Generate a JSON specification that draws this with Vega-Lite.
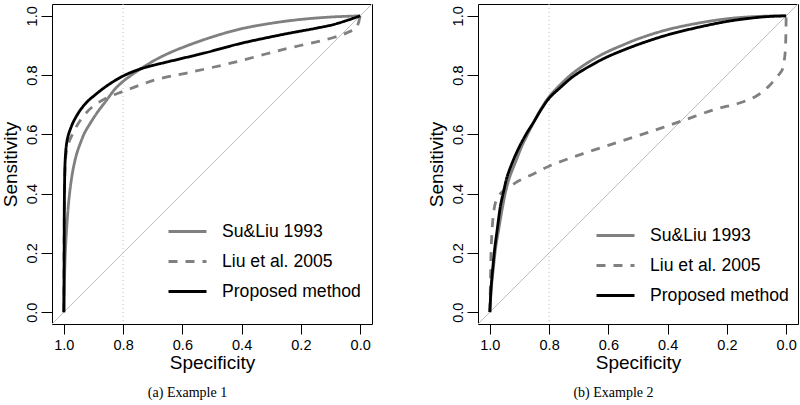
{
  "$schema": "https://vega.github.io/schema/vega-lite/v6.json",
  "background": "white",
  "padding": {"left": 0, "top": 1, "right": 0, "bottom": 0},
  "spacing": 106,
  "bounds": "flush",
  "config": {
    "font": "Liberation Sans",
    "view": {"stroke": "black", "strokeWidth": 1},
    "axis": {"domain": false, "grid": false, "tickColor": "black", "tickWidth": 1, "tickSize": 10, "labelColor": "black", "labelFontSize": 14.5, "labelFont": "Liberation Sans", "labelFlush": false, "labelOverlap": false, "titleFontSize": 19, "titleFontWeight": "normal", "titleColor": "black", "titleFont": "Liberation Sans"},
    "axisY": {"labelAngle": -90, "labelAlign": "center", "labelBaseline": "bottom", "tickSize": 11, "labelPadding": 2, "titlePadding": 4},
    "axisX": {"labelPadding": 4, "titlePadding": 2},
    "legend": {"symbolType": "stroke", "symbolSize": 1444, "symbolStrokeWidth": 2.8, "labelFontSize": 17.6, "labelColor": "black", "labelFont": "Liberation Sans", "labelOffset": 14, "rowPadding": 0, "padding": 0, "labelLimit": 300},
    "title": {"orient": "bottom", "frame": "bounds", "anchor": "middle", "font": "Liberation Serif", "fontSize": 14, "fontWeight": "normal", "color": "black", "offset": 13}
  },
  "datasets": {
    "a": [
      {"method": "Su&Liu 1993", "spec": 1.0, "sens": 0.0},
      {"method": "Su&Liu 1993", "spec": 0.998, "sens": 0.1},
      {"method": "Su&Liu 1993", "spec": 0.995, "sens": 0.2},
      {"method": "Su&Liu 1993", "spec": 0.99, "sens": 0.29},
      {"method": "Su&Liu 1993", "spec": 0.984, "sens": 0.368},
      {"method": "Su&Liu 1993", "spec": 0.977, "sens": 0.43},
      {"method": "Su&Liu 1993", "spec": 0.969, "sens": 0.481},
      {"method": "Su&Liu 1993", "spec": 0.957, "sens": 0.533},
      {"method": "Su&Liu 1993", "spec": 0.944, "sens": 0.571},
      {"method": "Su&Liu 1993", "spec": 0.93, "sens": 0.605},
      {"method": "Su&Liu 1993", "spec": 0.91, "sens": 0.639},
      {"method": "Su&Liu 1993", "spec": 0.885, "sens": 0.677},
      {"method": "Su&Liu 1993", "spec": 0.856, "sens": 0.715},
      {"method": "Su&Liu 1993", "spec": 0.83, "sens": 0.75},
      {"method": "Su&Liu 1993", "spec": 0.8, "sens": 0.779},
      {"method": "Su&Liu 1993", "spec": 0.744, "sens": 0.819},
      {"method": "Su&Liu 1993", "spec": 0.69, "sens": 0.852},
      {"method": "Su&Liu 1993", "spec": 0.632, "sens": 0.88},
      {"method": "Su&Liu 1993", "spec": 0.52, "sens": 0.922},
      {"method": "Su&Liu 1993", "spec": 0.407, "sens": 0.955},
      {"method": "Su&Liu 1993", "spec": 0.3, "sens": 0.975},
      {"method": "Su&Liu 1993", "spec": 0.2, "sens": 0.988},
      {"method": "Su&Liu 1993", "spec": 0.1, "sens": 0.996},
      {"method": "Su&Liu 1993", "spec": 0.0, "sens": 1.0},
      {"method": "Liu et al. 2005", "spec": 1.0, "sens": 0.0},
      {"method": "Liu et al. 2005", "spec": 0.999, "sens": 0.25},
      {"method": "Liu et al. 2005", "spec": 0.997, "sens": 0.45},
      {"method": "Liu et al. 2005", "spec": 0.993, "sens": 0.53},
      {"method": "Liu et al. 2005", "spec": 0.986, "sens": 0.565},
      {"method": "Liu et al. 2005", "spec": 0.974, "sens": 0.594},
      {"method": "Liu et al. 2005", "spec": 0.96, "sens": 0.622},
      {"method": "Liu et al. 2005", "spec": 0.946, "sens": 0.645},
      {"method": "Liu et al. 2005", "spec": 0.925, "sens": 0.672},
      {"method": "Liu et al. 2005", "spec": 0.901, "sens": 0.695},
      {"method": "Liu et al. 2005", "spec": 0.856, "sens": 0.723},
      {"method": "Liu et al. 2005", "spec": 0.8, "sens": 0.745},
      {"method": "Liu et al. 2005", "spec": 0.744, "sens": 0.766},
      {"method": "Liu et al. 2005", "spec": 0.688, "sens": 0.785},
      {"method": "Liu et al. 2005", "spec": 0.576, "sens": 0.809},
      {"method": "Liu et al. 2005", "spec": 0.43, "sens": 0.842},
      {"method": "Liu et al. 2005", "spec": 0.262, "sens": 0.886},
      {"method": "Liu et al. 2005", "spec": 0.093, "sens": 0.926},
      {"method": "Liu et al. 2005", "spec": 0.037, "sens": 0.946},
      {"method": "Liu et al. 2005", "spec": 0.012, "sens": 0.962},
      {"method": "Liu et al. 2005", "spec": 0.0, "sens": 1.0},
      {"method": "Proposed method", "spec": 1.0, "sens": 0.0},
      {"method": "Proposed method", "spec": 0.999, "sens": 0.2},
      {"method": "Proposed method", "spec": 0.998, "sens": 0.4},
      {"method": "Proposed method", "spec": 0.996, "sens": 0.503},
      {"method": "Proposed method", "spec": 0.993, "sens": 0.55},
      {"method": "Proposed method", "spec": 0.99, "sens": 0.574},
      {"method": "Proposed method", "spec": 0.985, "sens": 0.597},
      {"method": "Proposed method", "spec": 0.978, "sens": 0.618},
      {"method": "Proposed method", "spec": 0.97, "sens": 0.638},
      {"method": "Proposed method", "spec": 0.96, "sens": 0.657},
      {"method": "Proposed method", "spec": 0.948, "sens": 0.677},
      {"method": "Proposed method", "spec": 0.933, "sens": 0.697},
      {"method": "Proposed method", "spec": 0.915, "sens": 0.716},
      {"method": "Proposed method", "spec": 0.896, "sens": 0.732},
      {"method": "Proposed method", "spec": 0.856, "sens": 0.763},
      {"method": "Proposed method", "spec": 0.8, "sens": 0.797},
      {"method": "Proposed method", "spec": 0.744, "sens": 0.82},
      {"method": "Proposed method", "spec": 0.69, "sens": 0.835},
      {"method": "Proposed method", "spec": 0.632, "sens": 0.849},
      {"method": "Proposed method", "spec": 0.52, "sens": 0.876},
      {"method": "Proposed method", "spec": 0.407, "sens": 0.906},
      {"method": "Proposed method", "spec": 0.262, "sens": 0.937},
      {"method": "Proposed method", "spec": 0.15, "sens": 0.958},
      {"method": "Proposed method", "spec": 0.093, "sens": 0.97},
      {"method": "Proposed method", "spec": 0.04, "sens": 0.986},
      {"method": "Proposed method", "spec": 0.0, "sens": 1.0}
    ],
    "b": [
      {"method": "Su&Liu 1993", "spec": 1.0, "sens": 0.0},
      {"method": "Su&Liu 1993", "spec": 0.995, "sens": 0.08},
      {"method": "Su&Liu 1993", "spec": 0.988, "sens": 0.15},
      {"method": "Su&Liu 1993", "spec": 0.98, "sens": 0.22},
      {"method": "Su&Liu 1993", "spec": 0.97, "sens": 0.28},
      {"method": "Su&Liu 1993", "spec": 0.958, "sens": 0.35},
      {"method": "Su&Liu 1993", "spec": 0.946, "sens": 0.41},
      {"method": "Su&Liu 1993", "spec": 0.933, "sens": 0.456},
      {"method": "Su&Liu 1993", "spec": 0.91, "sens": 0.515},
      {"method": "Su&Liu 1993", "spec": 0.89, "sens": 0.565},
      {"method": "Su&Liu 1993", "spec": 0.87, "sens": 0.605},
      {"method": "Su&Liu 1993", "spec": 0.85, "sens": 0.645},
      {"method": "Su&Liu 1993", "spec": 0.826, "sens": 0.688},
      {"method": "Su&Liu 1993", "spec": 0.8, "sens": 0.727},
      {"method": "Su&Liu 1993", "spec": 0.76, "sens": 0.77},
      {"method": "Su&Liu 1993", "spec": 0.718, "sens": 0.808},
      {"method": "Su&Liu 1993", "spec": 0.66, "sens": 0.848},
      {"method": "Su&Liu 1993", "spec": 0.607, "sens": 0.877},
      {"method": "Su&Liu 1993", "spec": 0.55, "sens": 0.902},
      {"method": "Su&Liu 1993", "spec": 0.495, "sens": 0.924},
      {"method": "Su&Liu 1993", "spec": 0.406, "sens": 0.952},
      {"method": "Su&Liu 1993", "spec": 0.294, "sens": 0.976},
      {"method": "Su&Liu 1993", "spec": 0.182, "sens": 0.992},
      {"method": "Su&Liu 1993", "spec": 0.07, "sens": 0.999},
      {"method": "Su&Liu 1993", "spec": 0.0, "sens": 1.0},
      {"method": "Liu et al. 2005", "spec": 1.0, "sens": 0.0},
      {"method": "Liu et al. 2005", "spec": 0.998, "sens": 0.1},
      {"method": "Liu et al. 2005", "spec": 0.996, "sens": 0.2},
      {"method": "Liu et al. 2005", "spec": 0.993, "sens": 0.27},
      {"method": "Liu et al. 2005", "spec": 0.988, "sens": 0.33},
      {"method": "Liu et al. 2005", "spec": 0.981, "sens": 0.37},
      {"method": "Liu et al. 2005", "spec": 0.97, "sens": 0.393},
      {"method": "Liu et al. 2005", "spec": 0.953, "sens": 0.41},
      {"method": "Liu et al. 2005", "spec": 0.93, "sens": 0.425},
      {"method": "Liu et al. 2005", "spec": 0.908, "sens": 0.44},
      {"method": "Liu et al. 2005", "spec": 0.85, "sens": 0.468},
      {"method": "Liu et al. 2005", "spec": 0.797, "sens": 0.494},
      {"method": "Liu et al. 2005", "spec": 0.74, "sens": 0.516},
      {"method": "Liu et al. 2005", "spec": 0.685, "sens": 0.535},
      {"method": "Liu et al. 2005", "spec": 0.573, "sens": 0.572},
      {"method": "Liu et al. 2005", "spec": 0.461, "sens": 0.608},
      {"method": "Liu et al. 2005", "spec": 0.35, "sens": 0.646},
      {"method": "Liu et al. 2005", "spec": 0.238, "sens": 0.685},
      {"method": "Liu et al. 2005", "spec": 0.16, "sens": 0.705},
      {"method": "Liu et al. 2005", "spec": 0.103, "sens": 0.728},
      {"method": "Liu et al. 2005", "spec": 0.059, "sens": 0.762},
      {"method": "Liu et al. 2005", "spec": 0.026, "sens": 0.8},
      {"method": "Liu et al. 2005", "spec": 0.013, "sens": 0.818},
      {"method": "Liu et al. 2005", "spec": 0.005, "sens": 0.86},
      {"method": "Liu et al. 2005", "spec": 0.002, "sens": 0.9},
      {"method": "Liu et al. 2005", "spec": 0.0005, "sens": 0.96},
      {"method": "Liu et al. 2005", "spec": 0.0, "sens": 1.0},
      {"method": "Proposed method", "spec": 1.0, "sens": 0.0},
      {"method": "Proposed method", "spec": 0.996, "sens": 0.08},
      {"method": "Proposed method", "spec": 0.99, "sens": 0.15},
      {"method": "Proposed method", "spec": 0.983, "sens": 0.22},
      {"method": "Proposed method", "spec": 0.975, "sens": 0.28},
      {"method": "Proposed method", "spec": 0.964, "sens": 0.36},
      {"method": "Proposed method", "spec": 0.953, "sens": 0.41},
      {"method": "Proposed method", "spec": 0.942, "sens": 0.456},
      {"method": "Proposed method", "spec": 0.92, "sens": 0.515},
      {"method": "Proposed method", "spec": 0.897, "sens": 0.565},
      {"method": "Proposed method", "spec": 0.875, "sens": 0.605},
      {"method": "Proposed method", "spec": 0.853, "sens": 0.64},
      {"method": "Proposed method", "spec": 0.826, "sens": 0.685},
      {"method": "Proposed method", "spec": 0.8, "sens": 0.722},
      {"method": "Proposed method", "spec": 0.76, "sens": 0.76},
      {"method": "Proposed method", "spec": 0.718, "sens": 0.796},
      {"method": "Proposed method", "spec": 0.66, "sens": 0.832},
      {"method": "Proposed method", "spec": 0.607, "sens": 0.86},
      {"method": "Proposed method", "spec": 0.55, "sens": 0.884},
      {"method": "Proposed method", "spec": 0.495, "sens": 0.905},
      {"method": "Proposed method", "spec": 0.406, "sens": 0.934},
      {"method": "Proposed method", "spec": 0.294, "sens": 0.962},
      {"method": "Proposed method", "spec": 0.182, "sens": 0.984},
      {"method": "Proposed method", "spec": 0.07, "sens": 0.997},
      {"method": "Proposed method", "spec": 0.0, "sens": 1.0}
    ]
  },
  "hconcat": [
    {
      "width": 320, "height": 320,
      "title": {"text": "(a) Example 1"},
      "layer": [
        {
          "data": {"values": [{"spec": 1.04, "sens": -0.04}, {"spec": -0.04, "sens": 1.04}]},
          "mark": {"type": "line", "color": "#bebebe", "strokeWidth": 1},
          "encoding": {
            "x": {"field": "spec", "type": "quantitative", "scale": {"domain": [-0.04, 1.04], "reverse": true, "nice": false, "zero": false}, "axis": {"values": [0, 0.2, 0.4, 0.6, 0.8, 1], "format": ".1f"}, "title": "Specificity"},
            "y": {"field": "sens", "type": "quantitative", "scale": {"domain": [-0.04, 1.04], "nice": false, "zero": false}, "axis": {"values": [0, 0.2, 0.4, 0.6, 0.8, 1], "format": ".1f"}, "title": "Sensitivity"}
          }
        },
        {
          "data": {"values": [{"spec": 0.8}]},
          "mark": {"type": "rule", "color": "#bebebe", "strokeDash": [1, 3], "strokeWidth": 1},
          "encoding": {"x": {"field": "spec", "type": "quantitative"}}
        },
        {
          "data": {"name": "a"},
          "mark": {"type": "line", "strokeWidth": 2.8, "interpolate": "catmull-rom"},
          "encoding": {
            "x": {"field": "spec", "type": "quantitative"},
            "y": {"field": "sens", "type": "quantitative"},
            "order": {"value": null},
            "color": {"field": "method", "type": "nominal", "scale": {"domain": ["Su&Liu 1993", "Liu et al. 2005", "Proposed method"], "range": ["#808080", "#808080", "#000000"]}, "legend": {"title": null, "orient": "none", "legendX": 115, "legendY": 207}},
            "strokeDash": {"field": "method", "type": "nominal", "scale": {"domain": ["Su&Liu 1993", "Liu et al. 2005", "Proposed method"], "range": [[1, 0], [9, 8], [1, 0]]}, "legend": {"title": null, "orient": "none", "legendX": 115, "legendY": 207}}
          }
        }
      ]
    },
    {
      "width": 320, "height": 320,
      "title": {"text": "(b) Example 2"},
      "layer": [
        {
          "data": {"values": [{"spec": 1.04, "sens": -0.04}, {"spec": -0.04, "sens": 1.04}]},
          "mark": {"type": "line", "color": "#bebebe", "strokeWidth": 1},
          "encoding": {
            "x": {"field": "spec", "type": "quantitative", "scale": {"domain": [-0.04, 1.04], "reverse": true, "nice": false, "zero": false}, "axis": {"values": [0, 0.2, 0.4, 0.6, 0.8, 1], "format": ".1f"}, "title": "Specificity"},
            "y": {"field": "sens", "type": "quantitative", "scale": {"domain": [-0.04, 1.04], "nice": false, "zero": false}, "axis": {"values": [0, 0.2, 0.4, 0.6, 0.8, 1], "format": ".1f"}, "title": "Sensitivity"}
          }
        },
        {
          "data": {"values": [{"spec": 0.8}]},
          "mark": {"type": "rule", "color": "#bebebe", "strokeDash": [1, 3], "strokeWidth": 1},
          "encoding": {"x": {"field": "spec", "type": "quantitative"}}
        },
        {
          "data": {"name": "b"},
          "mark": {"type": "line", "strokeWidth": 2.8, "interpolate": "catmull-rom"},
          "encoding": {
            "x": {"field": "spec", "type": "quantitative"},
            "y": {"field": "sens", "type": "quantitative"},
            "order": {"value": null},
            "color": {"field": "method", "type": "nominal", "scale": {"domain": ["Su&Liu 1993", "Liu et al. 2005", "Proposed method"], "range": ["#808080", "#808080", "#000000"]}, "legend": {"title": null, "orient": "none", "legendX": 117, "legendY": 211}},
            "strokeDash": {"field": "method", "type": "nominal", "scale": {"domain": ["Su&Liu 1993", "Liu et al. 2005", "Proposed method"], "range": [[1, 0], [9, 8], [1, 0]]}, "legend": {"title": null, "orient": "none", "legendX": 117, "legendY": 211}}
          }
        }
      ]
    }
  ],
  "resolve": {"scale": {"color": "independent", "strokeDash": "independent", "x": "independent", "y": "independent"}, "legend": {"color": "independent", "strokeDash": "independent"}}
}
